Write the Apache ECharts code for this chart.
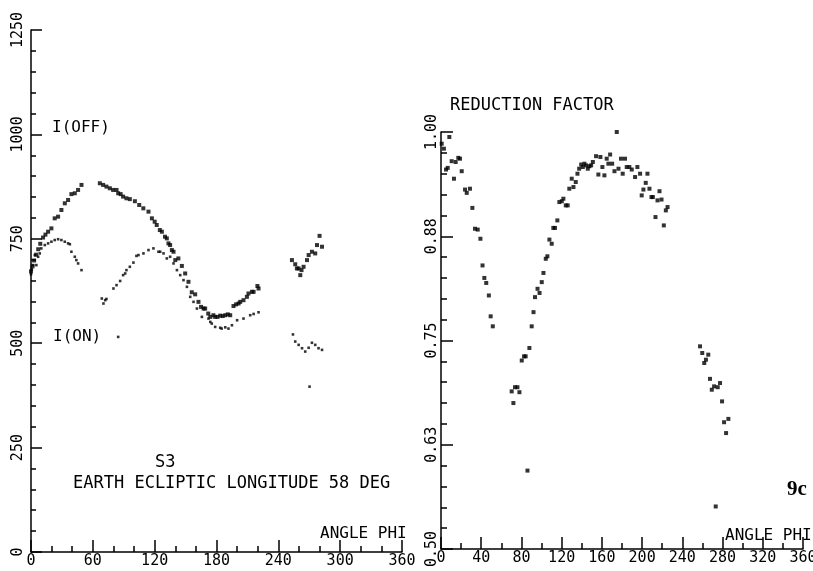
<!DOCTYPE html>
<html>
<head>
<meta charset="utf-8">
<script src="https://cdn.jsdelivr.net/npm/echarts@6/dist/echarts.min.js"></script>
<style>
  html, body { margin: 0; padding: 0; background: #fff; }
  #chart { width: 813px; height: 571px; }
</style>
</head>
<body>
<div id="chart"></div>
<script>
// left panel: I(OFF) and I(ON) vs angle phi, [phi, intensity]
var offPoints = [
  [0, 672], [1.5, 684], [3, 698], [5, 712], [7, 725], [9, 738], [11.7, 753], [14, 760],
  [16.6, 767], [19.8, 775], [23, 799], [26.3, 803], [29.5, 819], [32.8, 835], [36, 843],
  [39.2, 857], [42.5, 859], [45.7, 867], [49, 879],
  [66.8, 883], [70, 879], [73.2, 875], [76.5, 871], [79.7, 867], [83, 867], [84.6, 859],
  [87, 857], [89.4, 851], [92.6, 847], [95.9, 845], [100.8, 840], [105, 831], [109, 823],
  [114, 815], [117.3, 799], [120, 791], [122, 783], [125, 771], [127, 767], [130, 755],
  [131.8, 751], [133.4, 739], [135, 735], [136.7, 723], [138.3, 719], [140, 699], [143, 703],
  [146.4, 685], [149.6, 667], [152.8, 647], [156, 622], [159.3, 617], [162.5, 599], [165, 587],
  [167.4, 583], [169, 583], [172, 571], [174, 563], [177, 567], [178.7, 563], [181, 563],
  [183.6, 566], [186, 565], [188.5, 567], [191, 569], [193.3, 567], [196.5, 589], [199, 593],
  [201.4, 595], [203, 599], [206.2, 603], [209.5, 611], [211, 619], [214.4, 623], [216, 623],
  [219.7, 637], [220.8, 631],
  [253.2, 699], [256.4, 689], [258, 679], [259.7, 679], [261.3, 663], [262.5, 675],
  [264.5, 683], [267.8, 699], [269.4, 711], [272.6, 719], [275.8, 715], [277.5, 735],
  [280, 757], [282.4, 731]
];
var onPoints = [
  [0, 665], [0.8, 677], [2, 687], [3.7, 711], [5.2, 687], [6.9, 707], [8.5, 715], [10, 727],
  [13.4, 735], [16.6, 739], [19.8, 743], [23, 747], [26.3, 749], [29.5, 747], [32.8, 743],
  [36, 739], [37.7, 737], [39.2, 719], [42.5, 707], [44, 699], [45.7, 691], [49, 675],
  [68.7, 607], [70.3, 595], [72, 603], [73.2, 606], [80, 631], [83, 639], [84.6, 515],
  [86.5, 649], [89.4, 663], [91.4, 667], [92.6, 675], [95.9, 683], [99.4, 693], [102.3, 709],
  [104.3, 711], [109.1, 715], [114, 723], [118.8, 727], [123.7, 719], [125.4, 719],
  [128.6, 715], [131.8, 703], [135, 707], [138.3, 691], [141.6, 675], [144.8, 663], [148, 651],
  [151.3, 635], [154.5, 611], [157.7, 599], [161, 583], [165.8, 563], [172.2, 559], [174, 551],
  [175.4, 547], [178.7, 539], [183.6, 537], [185, 535], [188.5, 538], [191.6, 535], [195, 543],
  [200, 555], [206.2, 559], [212.7, 567], [216, 570], [220.8, 574],
  [254.2, 521], [256.4, 504], [259.7, 496], [263, 488], [266.1, 480], [269.4, 489],
  [270.3, 396], [272.6, 501], [275.8, 496], [279, 488], [282.4, 484]
];
// right panel: reduction factor vs angle phi
var reductionPoints = [
  [0.7, 0.986], [2.9, 0.980], [5, 0.955], [6.7, 0.957], [8.3, 0.994], [10.6, 0.965],
  [12.9, 0.944], [14.6, 0.964], [17.2, 0.969], [18.9, 0.968], [20.6, 0.953], [23.9, 0.931],
  [25.6, 0.927], [28.8, 0.932], [31.2, 0.909], [33.8, 0.884], [36.5, 0.883], [39.2, 0.872],
  [41.3, 0.840], [43.1, 0.825], [45, 0.819], [47.6, 0.804], [49.4, 0.779], [51.5, 0.767],
  [70.3, 0.689], [72, 0.675], [73.6, 0.694], [76, 0.694], [78, 0.688], [80.3, 0.726],
  [82.6, 0.731], [84.2, 0.731], [86, 0.594], [87.9, 0.741], [90.2, 0.767], [92, 0.784],
  [93.5, 0.802], [96, 0.812], [98, 0.807], [100.2, 0.820], [101.9, 0.831], [104.2, 0.848],
  [105.8, 0.851], [107.8, 0.871], [110.1, 0.866], [111.7, 0.885], [113.4, 0.885],
  [115.7, 0.894], [117.7, 0.916], [120.1, 0.917], [121.7, 0.920], [124.1, 0.912],
  [126, 0.912], [127.6, 0.932], [130, 0.944], [131.7, 0.934], [134, 0.940], [135.7, 0.950],
  [137.4, 0.956], [139.4, 0.961], [141, 0.958], [142.6, 0.962], [144.3, 0.960], [146, 0.956],
  [147.6, 0.959], [149.3, 0.960], [151, 0.964], [154.2, 0.971], [156.5, 0.949], [158.5, 0.970],
  [160.5, 0.958], [162.5, 0.948], [164.8, 0.968], [166.5, 0.962], [168.2, 0.973],
  [170.2, 0.962], [172.5, 0.953], [174.8, 1.000], [176.5, 0.956], [179, 0.968], [180.7, 0.950],
  [183, 0.968], [184.7, 0.958], [187.3, 0.958], [189.7, 0.955], [193, 0.946], [195.3, 0.958],
  [198, 0.950], [199.6, 0.924], [201.3, 0.931], [203.6, 0.939], [205.3, 0.950], [207.3, 0.932],
  [209.3, 0.922], [210.7, 0.922], [213.3, 0.898], [215.3, 0.918], [217.3, 0.929],
  [219.3, 0.919], [221.6, 0.888], [223.6, 0.906], [225.3, 0.910],
  [257.6, 0.743], [259.8, 0.735], [261.8, 0.723], [263.5, 0.727], [265.8, 0.733],
  [267.5, 0.704], [269.3, 0.691], [271.6, 0.695], [273.2, 0.551], [275.2, 0.694],
  [277.5, 0.699], [279.5, 0.677], [281.5, 0.652], [283.5, 0.639], [285.8, 0.656]
];

var mono = 'DejaVu Sans Mono';
var ink = '#000';

function xAxisOf(grid, interval, minorSplit) {
  return {
    type: 'value', gridIndex: grid, min: 0, max: 360, interval: interval,
    axisLine: { onZero: false, lineStyle: { color: ink, width: 1.5 } },
    axisTick: { inside: true, length: 12, lineStyle: { color: ink, width: 1.5 } },
    minorTick: { show: true, splitNumber: minorSplit, length: 6, lineStyle: { color: ink, width: 1.5 } },
    splitLine: { show: false },
    axisLabel: { color: ink, fontFamily: mono, fontSize: 15, margin: 2, showMinLabel: true, showMaxLabel: true }
  };
}

var chart = echarts.init(document.getElementById('chart'));
chart.setOption({
  animation: false,
  backgroundColor: '#fff',
  grid: [
    { left: 31, top: 30, width: 371, height: 522, containLabel: false, outerBoundsMode: 'none' },
    { left: 441, top: 132, width: 362, height: 417, containLabel: false, outerBoundsMode: 'none' }
  ],
  xAxis: [xAxisOf(0, 60, 3), xAxisOf(1, 40, 2)],
  yAxis: [
    {
      type: 'value', gridIndex: 0, min: 0, max: 1250, interval: 250,
      axisLine: { show: true, onZero: false, lineStyle: { color: ink, width: 1.5 } },
      axisTick: { show: true, inside: true, length: 11, lineStyle: { color: ink, width: 1.5 } },
      minorTick: { show: true, splitNumber: 5, length: 5, lineStyle: { color: ink, width: 1.5 } },
      splitLine: { show: false },
      axisLabel: {
        color: ink, fontFamily: mono, fontSize: 15, rotate: 90, margin: 5,
        showMinLabel: true, showMaxLabel: true,
        formatter: function (v) { return String(v); }
      }
    },
    {
      type: 'value', gridIndex: 1, min: 0.5, max: 1.0, interval: 0.125,
      axisLine: { show: true, onZero: false, lineStyle: { color: ink, width: 1.5 } },
      axisTick: { show: true, inside: true, length: 12, lineStyle: { color: ink, width: 1.5 } },
      minorTick: { show: true, splitNumber: 5, length: 6, lineStyle: { color: ink, width: 1.5 } },
      splitLine: { show: false },
      axisLabel: {
        color: ink, fontFamily: mono, fontSize: 15, rotate: 90, margin: 1,
        showMinLabel: true, showMaxLabel: true,
        formatter: function (v) { return v.toFixed(2); }
      }
    }
  ],
  series: [
    {
      name: 'I(OFF)', type: 'scatter', xAxisIndex: 0, yAxisIndex: 0,
      symbol: 'rect', symbolSize: 4, itemStyle: { color: ink }, data: offPoints
    },
    {
      name: 'I(ON)', type: 'scatter', xAxisIndex: 0, yAxisIndex: 0,
      symbol: 'rect', symbolSize: 2.6, itemStyle: { color: ink }, data: onPoints
    },
    {
      name: 'REDUCTION FACTOR', type: 'scatter', xAxisIndex: 1, yAxisIndex: 1,
      symbol: 'rect', symbolSize: 4, itemStyle: { color: ink }, data: reductionPoints
    }
  ],
  graphic: [
    { type: 'text', left: 52, top: 120, style: { text: 'I(OFF)', font: '16px ' + mono, fill: ink } },
    { type: 'text', left: 53, top: 329, style: { text: 'I(ON)', font: '16px ' + mono, fill: ink } },
    { type: 'text', left: 155, top: 454, style: { text: 'S3', font: '17px ' + mono, fill: ink } },
    { type: 'text', left: 73, top: 475, style: { text: 'EARTH ECLIPTIC LONGITUDE 58 DEG', font: '17px ' + mono, fill: ink } },
    { type: 'text', left: 320, top: 526, style: { text: 'ANGLE PHI', font: '16px ' + mono, fill: ink } },
    { type: 'text', left: 450, top: 97, style: { text: 'REDUCTION FACTOR', font: '17px ' + mono, fill: ink } },
    { type: 'text', left: 725, top: 528, style: { text: 'ANGLE PHI', font: '16px ' + mono, fill: ink } },
    { type: 'text', left: 787, top: 479, style: { text: '9c', font: 'bold 21px "Liberation Serif"', fill: ink } }
  ]
});
</script>
</body>
</html>
